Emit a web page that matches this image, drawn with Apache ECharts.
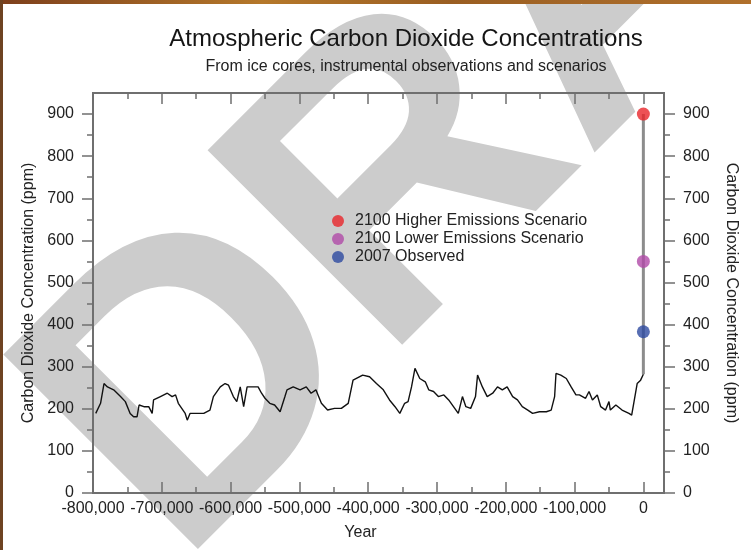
<!DOCTYPE html>
<html>
<head>
<meta charset="utf-8">
<script src="https://cdn.jsdelivr.net/npm/echarts@6.0.0/dist/echarts.min.js"></script>
<style>
  html, body { margin: 0; padding: 0; background: #fff; }
  #chart { width: 751px; height: 550px; }
</style>
</head>
<body>
<div id="chart"></div>
<script>
// ice core record (year, ppm)
var iceYears = [
  -796000, -789000, -784000, -779000, -770000, -760000, -753000, -746000, -741000, -736000,
  -733000, -726000, -719000, -714000, -712000, -702000, -692000, -685000, -680000, -676000,
  -666000, -663000, -659000, -649000, -639000, -630000, -625000, -615000, -608000, -603000,
  -596000, -591000, -586000, -581000, -576000, -567000, -560000, -555000, -550000, -543000,
  -536000, -528000, -521000, -518000, -509000, -499000, -490000, -483000, -476000, -468000,
  -459000, -449000, -439000, -429000, -422000, -408000, -398000, -388000, -378000, -369000,
  -361000, -354000, -347000, -342000, -337000, -332000, -325000, -317000, -312000, -305000,
  -298000, -290000, -283000, -276000, -269000, -263000, -258000, -251000, -244000, -241000,
  -234000, -227000, -219000, -212000, -205000, -198000, -190000, -183000, -176000, -168000,
  -161000, -151000, -141000, -134000, -129000, -127000, -120000, -112000, -105000, -98000,
  -93000, -84000, -79000, -74000, -67000, -62000, -55000, -50000, -48000, -40000,
  -31000, -21000, -17000, -14000, -9000, -4000, 0
];
var iceCO2 = [
  189, 213, 260, 252, 245, 229, 217, 189, 181, 181,
  209, 205, 205, 189, 221, 229, 237, 229, 233, 213,
  189, 173, 189, 189, 189, 197, 229, 252, 260, 256,
  229, 217, 252, 205, 252, 252, 252, 237, 225, 213,
  209, 193, 229, 245, 252, 245, 252, 237, 245, 213,
  197, 201, 201, 213, 268, 280, 276, 260, 245, 221,
  205, 189, 213, 217, 252, 296, 272, 264, 245, 241,
  229, 233, 221, 205, 189, 229, 205, 201, 229, 280,
  252, 229, 237, 252, 245, 252, 229, 221, 205, 197,
  189, 193, 193, 197, 229, 284, 280, 272, 252, 233,
  233, 225, 241, 221, 233, 205, 197, 217, 197, 209,
  197, 189, 185, 213, 260, 268, 282
];

var rangeLine = [282, 900];
var higher2100 = 900;
var lower2100 = 550;
var observed2007 = 383;

var xTicks = [-800000, -700000, -600000, -500000, -400000, -300000, -200000, -100000, 0];
var xMinor = [-750000, -650000, -550000, -450000, -350000, -250000, -150000, -50000];
var yTicks = [0, 100, 200, 300, 400, 500, 600, 700, 800, 900];
var yMinor = [50, 150, 250, 350, 450, 550, 650, 750, 850];

var FONT = "'Liberation Sans', Arial, Helvetica, sans-serif";
var AXIS_GRAY = '#6f6f6f';

function commas(v) {
  var s = String(Math.abs(v)).replace(/\B(?=(\d{3})+(?!\d))/g, ',');
  return (v < 0 ? '-' : '') + s;
}

var icePoints = [];
for (var i = 0; i < iceYears.length; i++) {
  icePoints.push([iceYears[i], iceCO2[i]]);
}

function xAxisDef(pos, ticks, len, withLabels) {
  return {
    type: 'value', position: pos, min: -800000, max: 30000,
    axisLine: { show: true, onZero: false, lineStyle: { color: AXIS_GRAY, width: 2 } },
    axisTick: { show: true, inside: true, length: len, customValues: ticks,
      lineStyle: { color: AXIS_GRAY, width: 1.5 } },
    axisLabel: withLabels ? {
      show: true, customValues: xTicks, margin: 8, color: '#222',
      fontFamily: FONT, fontSize: 16, formatter: commas
    } : { show: false },
    splitLine: { show: false }
  };
}

function yAxisDef(pos, ticks, len, withLabels) {
  var ax = {
    type: 'value', position: pos, min: 0, max: 950,
    axisLine: { show: true, onZero: false, lineStyle: { color: AXIS_GRAY, width: 2 } },
    axisTick: { show: true, inside: false, length: len, customValues: ticks,
      lineStyle: { color: AXIS_GRAY, width: 1.5 } },
    axisLabel: withLabels ? {
      show: true, customValues: yTicks, margin: 19, color: '#222',
      fontFamily: FONT, fontSize: 16
    } : { show: false },
    splitLine: { show: false }
  };
  if (withLabels) {
    ax.name = 'Carbon Dioxide Concentration (ppm)';
    ax.nameLocation = 'middle';
    ax.nameGap = pos === 'left' ? 56 : 59;
    ax.nameRotate = pos === 'left' ? 90 : -90;
    ax.nameTextStyle = { fontFamily: FONT, fontSize: 16, color: '#222' };
  }
  return ax;
}

var xMain = xAxisDef('bottom', xTicks, 11, true);
xMain.name = 'Year';
xMain.nameLocation = 'middle';
xMain.nameGap = 32;
xMain.nameTextStyle = { fontFamily: FONT, fontSize: 16, color: '#222', padding: [0, 36, 0, 0] };

var chart = echarts.init(document.getElementById('chart'));

var option = {
  backgroundColor: '#ffffff',
  animation: false,
  title: {
    text: 'Atmospheric Carbon Dioxide Concentrations',
    subtext: 'From ice cores, instrumental observations and scenarios',
    left: 401, top: 22, textAlign: 'center', itemGap: 8,
    textStyle: { fontFamily: FONT, fontSize: 24, fontWeight: 'normal', color: '#151515' },
    subtextStyle: { fontFamily: FONT, fontSize: 16, color: '#222' }
  },
  legend: {
    orient: 'vertical', left: 327, top: 208,
    itemWidth: 12, itemHeight: 12, itemGap: 2, icon: 'circle',
    textStyle: { fontFamily: FONT, fontSize: 16, color: '#222', padding: [0, 0, 0, 6] },
    data: ['2100 Higher Emissions Scenario', '2100 Lower Emissions Scenario', '2007 Observed']
  },
  grid: { left: 93, right: 87, top: 93, bottom: 57, outerBoundsMode: 'none' },
  xAxis: [
    xMain,
    xAxisDef('bottom', xMinor, 6, false),
    xAxisDef('top', xTicks, 11, false),
    xAxisDef('top', xMinor, 6, false)
  ],
  yAxis: [
    yAxisDef('left', yTicks, 11, true),
    yAxisDef('left', yMinor, 6, false),
    yAxisDef('right', yTicks, 11, true),
    yAxisDef('right', yMinor, 6, false)
  ],
  graphic: [
    {
      type: 'text', x: 101, y: 490, rotation: Math.PI / 4, z: -10, silent: true,
      style: {
        text: 'DRAFT', fill: '#cccccc',
        font: 'bold 400px ' + FONT,
        textAlign: 'left', textVerticalAlign: 'middle',
        align: 'left', verticalAlign: 'middle'
      }
    },
    {
      type: 'rect', z: 100, silent: true,
      shape: { x: 0, y: 0, width: 751, height: 4 },
      style: { fill: new echarts.graphic.LinearGradient(0, 0, 1, 0, [
        { offset: 0, color: '#7d3f1c' },
        { offset: 0.35, color: '#b5782a' },
        { offset: 0.6, color: '#9a5e22' },
        { offset: 1, color: '#b0702c' }
      ]) }
    },
    {
      type: 'rect', z: 100, silent: true,
      shape: { x: 0, y: 0, width: 3, height: 550 },
      style: { fill: '#6e4322' }
    }
  ],
  series: [
    {
      name: 'Ice core', type: 'line', data: icePoints, showSymbol: false,
      lineStyle: { color: '#111', width: 1.4 }, z: 3
    },
    {
      name: 'Range', type: 'line', data: [[0, rangeLine[0]], [0, rangeLine[1]]],
      showSymbol: false, lineStyle: { color: '#8c8c8c', width: 3 }, z: 2
    },
    {
      name: '2100 Higher Emissions Scenario', type: 'scatter', symbolSize: 13,
      itemStyle: { color: '#e8262a' }, data: [[0, higher2100]], z: 4
    },
    {
      name: '2100 Lower Emissions Scenario', type: 'scatter', symbolSize: 13,
      itemStyle: { color: '#b04aa8' }, data: [[0, lower2100]], z: 4
    },
    {
      name: '2007 Observed', type: 'scatter', symbolSize: 13,
      itemStyle: { color: '#2d4aa0' }, data: [[0, observed2007]], z: 4
    }
  ]
};

chart.setOption(option);
</script>
</body>
</html>
